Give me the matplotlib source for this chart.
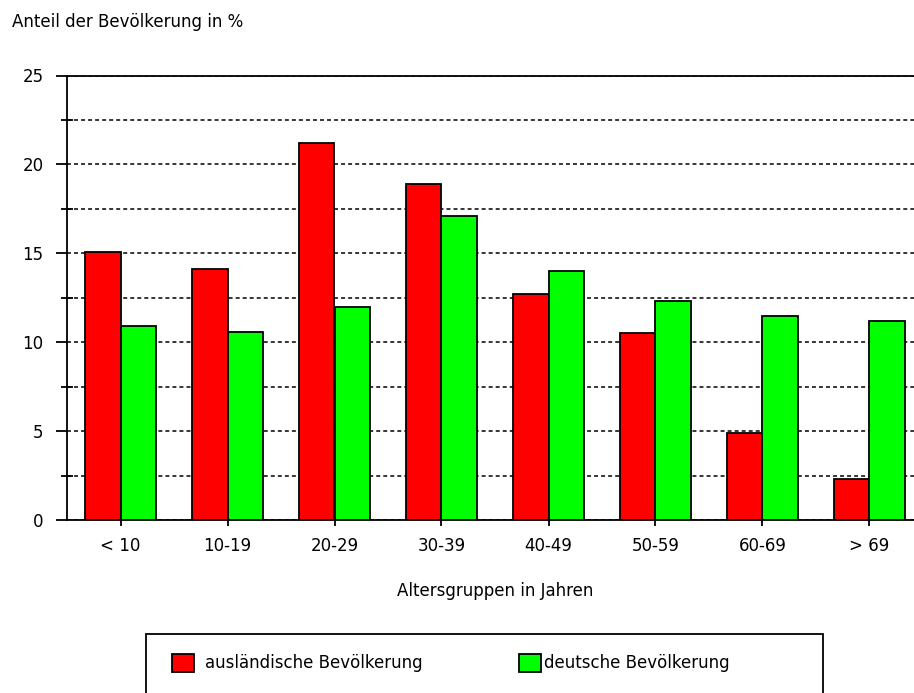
import matplotlib
matplotlib.use("Agg")
import matplotlib.pyplot as plt
from matplotlib.patches import Rectangle, Patch
import numpy as np

# data
categories = ["< 10", "10-19", "20-29", "30-39", "40-49", "50-59", "60-69", "> 69"]
auslaendisch = [15.1, 14.1, 21.2, 18.9, 12.7, 10.5, 4.9, 2.3]
deutsch = [10.9, 10.6, 12.0, 17.1, 14.0, 12.3, 11.5, 11.2]
major_yticks = [0, 5, 10, 15, 20, 25]
minor_yticks = [2.5, 7.5, 12.5, 17.5, 22.5]
series_labels = ["ausländische Bevölkerung", "deutsche Bevölkerung"]

red = "#ff0000"
green = "#00ff00"
fs = 12

plt.rcParams.update({
    'font.family': ['DejaVu Sans'],
    'font.size': fs,
})

W, H = 914, 693
fig = plt.figure(figsize=(W / 100, H / 100), dpi=100)
ax = fig.add_axes([67 / W, 1 - 520 / H, (923 - 67) / W, (520 - 75.5) / H])

x = np.arange(len(categories))
bw = 0.335
ax.bar(x - bw / 2, auslaendisch, bw, color=red, edgecolor="black", linewidth=1.3, zorder=3)
ax.bar(x + bw / 2, deutsch, bw, color=green, edgecolor="black", linewidth=1.3, zorder=3)

ax.set_xlim(-0.5, 7.5)
ax.set_ylim(0, 25)
ax.set_xticks(x)
ax.set_xticklabels(categories)
ax.set_yticks(major_yticks)
ax.set_yticks(minor_yticks, minor=True)

# dotted grid on every 2.5 step
ax.yaxis.grid(True, which='both', color="black", linestyle=(0, (2.6, 2.0)), linewidth=1.1)
ax.set_axisbelow(True)

ax.spines['right'].set_visible(False)
for s in ['left', 'bottom', 'top']:
    ax.spines[s].set_linewidth(1.3)
    ax.spines[s].set_color("black")

ax.tick_params(axis='y', which='major', direction='out', length=8, width=1.3, pad=9, labelsize=fs)
ax.tick_params(axis='y', which='minor', direction='inout', length=8, width=1.3)
ax.tick_params(axis='x', which='major', direction='out', length=4, width=1.3, pad=8, labelsize=fs)

ax.set_xlabel("Altersgruppen in Jahren", fontsize=fs, labelpad=20)

fig.text(12 / W, 1 - 22 / H, "Anteil der Bevölkerung in %", fontsize=fs, va='center', ha='left')

# legend box (cut off at the bottom like the reference)
box = Rectangle((146 / W, -0.1), (823 - 146) / W, (1 - 634 / H) + 0.1,
                transform=fig.transFigure, fill=False, edgecolor="black", linewidth=1.3)
fig.add_artist(box)

for lab, col, xpos, tpad in [(series_labels[0], red, 172, 0.7), (series_labels[1], green, 519, 0.2)]:
    h = Patch(facecolor=col, edgecolor="black", linewidth=1.3, label=lab)
    fig.legend(handles=[h], loc='center left', bbox_to_anchor=(xpos / W, 1 - 663 / H),
               frameon=False, borderpad=0, borderaxespad=0,
               handlelength=1.3, handleheight=1.3, handletextpad=tpad, fontsize=fs)

fig.savefig("out.png", dpi=100)
